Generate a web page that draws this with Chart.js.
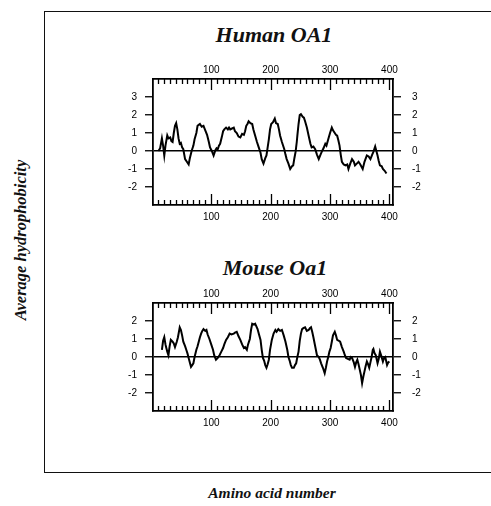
<!DOCTYPE html>
<html>
<head>
<meta charset="utf-8">
<script src="https://cdn.jsdelivr.net/npm/chart.js@4/dist/chart.umd.min.js"></script>
<style>
  html, body { margin: 0; padding: 0; background: #fff; }
  body { width: 491px; height: 506px; position: relative; overflow: hidden; }
  .box { position: absolute; left: 44px; top: 11px; width: 470px; height: 460px;
         border-left: 1.5px solid #111; border-top: 1.5px solid #111; border-bottom: 1.5px solid #111; }
  .lbl { position: absolute; font-family: "Liberation Serif", "Times New Roman", serif;
         font-weight: bold; font-style: italic; color: #111; white-space: nowrap; }
  .wrap { position: absolute; }
</style>
</head>
<body>
<div class="box"></div>
<div class="lbl" style="left:274px;top:35px;font-size:22px;transform:translate(-50%,-50%);">Human OA1</div>
<div class="lbl" style="left:275px;top:268px;font-size:22px;transform:translate(-50%,-50%);">Mouse Oa1</div>
<div class="lbl" style="left:272px;top:493px;font-size:15.5px;transform:translate(-50%,-50%);">Amino acid number</div>
<div class="lbl" style="left:21px;top:240px;font-size:16.5px;transform:translate(-50%,-50%) rotate(-90deg);">Average hydrophobicity</div>

<div class="wrap" style="left:103px;top:60px;"><canvas id="c1" width="340" height="170"></canvas></div>
<div class="wrap" style="left:103px;top:284px;"><canvas id="c2" width="340" height="152"></canvas></div>

<script>
// ---- data ----
const humanResidues = [11,14,17,19,21,23,26,28,31,33,35,37,39,41,43,45,47,49,51,53,56,59,62,64,67,70,72,75,77,79,81,84,87,90,93,96,98,101,104,107,109,111,113,115,118,120,122,125,128,130,132,135,138,140,143,146,149,152,155,157,159,161,163,166,169,171,174,177,180,183,185,188,191,193,195,197,199,201,204,207,209,212,214,216,219,223,225,227,230,233,236,238,240,242,244,245,247,249,251,254,256,258,261,264,267,269,272,275,278,281,284,286,289,292,294,297,300,303,305,308,310,312,314,316,318,320,323,326,329,331,334,337,340,342,345,348,351,355,358,362,365,368,371,373,376,378,380,382,384,387,389,392,395];
const humanValues = [0.0,0.15,0.7,0.3,-0.25,0.3,0.87,0.7,0.75,0.55,0.5,1.0,1.4,1.55,1.2,0.7,0.4,0.45,0.2,0.1,-0.45,-0.6,-0.75,-0.4,0.0,0.3,0.65,1.0,1.4,1.45,1.5,1.35,1.4,1.15,0.9,0.5,0.2,0.0,-0.25,0.05,0.15,0.1,0.3,0.4,0.8,1.1,1.2,1.3,1.2,1.3,1.2,1.25,1.3,1.1,1.0,0.8,0.75,0.95,0.9,1.1,1.4,1.5,1.65,1.55,1.5,1.2,0.85,0.5,0.2,-0.1,-0.45,-0.7,-0.4,-0.25,0.2,0.65,1.2,1.5,1.6,1.8,1.55,1.5,1.2,0.85,0.5,0.1,-0.2,-0.45,-0.7,-1.0,-0.85,-0.8,-0.4,-0.05,0.5,0.85,1.5,2.0,2.05,1.9,1.85,1.65,1.3,0.85,0.4,0.2,0.25,0.1,-0.2,-0.45,-0.2,-0.05,0.15,0.4,0.3,0.65,1.0,1.3,1.15,1.0,0.9,0.85,0.6,0.3,-0.2,-0.6,-0.75,-0.8,-0.75,-1.0,-0.7,-0.45,-0.6,-0.8,-0.7,-0.6,-0.75,-1.0,-0.6,-0.25,-0.3,-0.45,-0.2,-0.05,0.25,0.0,-0.25,-0.55,-0.8,-0.85,-1.0,-1.1,-1.25];

const mouseResidues = [17,19,21,23,24,26,28,30,32,35,37,39,42,44,47,49,51,53,56,58,60,62,64,66,68,70,72,75,77,79,81,83,85,87,90,92,94,97,100,103,105,108,111,114,117,120,122,125,128,131,134,138,140,143,146,149,152,155,157,160,162,165,167,169,172,174,176,178,180,183,185,187,189,191,193,195,197,199,202,205,208,210,213,216,219,222,225,228,230,232,234,236,239,241,243,245,247,249,251,253,255,258,261,264,266,268,270,272,275,278,281,283,285,288,291,293,295,297,299,301,303,305,308,310,312,315,317,320,323,325,327,330,333,335,337,340,342,344,346,348,350,352,354,356,358,360,362,364,366,368,370,372,373,375,377,379,380,382,384,386,389,391,393,395,396,398,400];
const mouseValues = [0.4,0.9,1.1,0.7,0.55,0.3,0.1,0.6,0.95,0.85,0.75,0.55,0.85,1.1,1.65,1.5,1.2,0.85,0.6,0.4,0.2,-0.05,-0.3,-0.55,-0.45,-0.35,0.0,0.4,0.6,0.85,1.1,1.3,1.45,1.55,1.45,1.5,1.25,1.0,0.7,0.4,0.1,-0.15,-0.05,0.1,0.3,0.5,0.7,0.95,1.1,1.3,1.25,1.3,1.35,1.4,1.15,0.95,0.7,0.5,0.55,0.4,0.7,1.0,1.5,1.85,1.8,1.85,1.7,1.55,1.3,0.95,0.4,-0.05,-0.2,-0.45,-0.6,-0.4,-0.15,0.4,0.95,1.3,1.5,1.4,1.55,1.45,1.5,1.2,0.85,0.4,0.0,-0.2,-0.45,-0.6,-0.6,-0.45,-0.35,0.0,0.3,0.9,1.3,1.55,1.6,1.65,1.45,1.5,1.6,1.65,1.4,1.1,0.6,0.1,0.0,-0.15,-0.35,-0.6,-0.9,-0.6,-0.25,0.0,0.3,0.5,0.85,1.2,1.4,1.2,0.95,0.9,0.85,0.55,0.3,0.1,-0.05,-0.1,-0.15,0.0,-0.05,-0.3,-0.55,-0.3,-0.15,-0.4,-0.7,-1.0,-1.45,-1.1,-0.8,-0.5,-0.25,-0.4,-0.6,-0.3,0.0,0.4,0.45,0.2,0.1,-0.2,-0.35,-0.1,0.3,0.1,-0.25,-0.05,0.0,-0.3,-0.45,-0.3,-0.25];

const xTickLabels = [100, 200, 300, 400];
const xMinorStep = 10;
const humanYTicks = [-2, -1, 0, 1, 2, 3];
const mouseYTicks = [-2, -1, 0, 1, 2];

// tick positions every 10 residues up to 400
const xTickValues = [];
for (let v = xMinorStep; v <= 400; v += xMinorStep) xTickValues.push(v);

// ---- inward x tick marks, positioned by the x scales ----
const innerTicks = {
  id: 'innerTicks',
  afterDraw(chart) {
    const ctx = chart.ctx, a = chart.chartArea;
    ctx.save();
    ctx.strokeStyle = '#000';
    ctx.lineWidth = 1.3;
    ['x', 'x2'].forEach(id => {
      const s = chart.scales[id];
      s.ticks.forEach(t => {
        const len = t.value % 100 === 0 ? 11 : 5;
        const px = Math.round(s.getPixelForValue(t.value)) + 0.5;
        ctx.beginPath();
        if (id === 'x') { ctx.moveTo(px, a.bottom); ctx.lineTo(px, a.bottom - len); }
        else { ctx.moveTo(px, a.top); ctx.lineTo(px, a.top + len); }
        ctx.stroke();
      });
    });
    ctx.restore();
  }
};

function makeChart(canvasId, residues, values, yMin, yMax, yTicks, topH, botH) {
  const font = { family: "'Liberation Sans', Arial, sans-serif", size: 10 };
  const xCommon = (pos, h, pad) => ({
    type: 'linear', position: pos, min: 2, max: 406,
    grid: { display: true, drawOnChartArea: false, drawTicks: false, tickLength: 0 },
    border: { display: true, color: '#000', width: 1.8 },
    ticks: {
      autoSkip: false, maxRotation: 0, color: '#000', font, padding: pad,
      callback: v => (xTickLabels.includes(v) ? String(v) : '')
    },
    afterBuildTicks: s => { s.ticks = xTickValues.map(v => ({ value: v })); },
    afterFit: s => { s.height = h; }
  });
  const yCommon = (pos, onArea, pad) => ({
    type: 'linear', position: pos, min: yMin, max: yMax,
    grid: {
      display: true, drawOnChartArea: onArea, tickLength: 8, tickColor: '#000', tickWidth: 1.3,
      color: c => (c.tick && c.tick.value === 0 ? '#000' : 'rgba(0,0,0,0)'), lineWidth: 1.5
    },
    border: { display: true, color: '#000', width: 1.8 },
    ticks: { color: '#000', font, padding: pad, callback: v => String(v) },
    afterBuildTicks: s => { s.ticks = yTicks.map(v => ({ value: v })); },
    afterFit: s => { s.width = 50; }
  });
  return new Chart(document.getElementById(canvasId), {
    type: 'line',
    data: {
      datasets: [{
        data: residues.map((r, i) => ({ x: r, y: values[i] })),
        borderColor: '#000', borderWidth: 2, pointRadius: 0, tension: 0, fill: false,
        xAxisID: 'x', yAxisID: 'y'
      }]
    },
    options: {
      responsive: false, animation: false, devicePixelRatio: 1,
      layout: { padding: 0 },
      plugins: { legend: { display: false }, tooltip: { enabled: false }, title: { display: false } },
      scales: {
        x: xCommon('bottom', botH, 6),
        x2: xCommon('top', topH, 3),
        y: yCommon('left', true, 8),
        y2: yCommon('right', false, 11)
      }
    },
    plugins: [innerTicks]
  });
}

makeChart('c1', humanResidues, humanValues, -3, 4, humanYTicks, 19, 25);
makeChart('c2', mouseResidues, mouseValues, -3, 3, mouseYTicks, 19, 25);
</script>
</body>
</html>
